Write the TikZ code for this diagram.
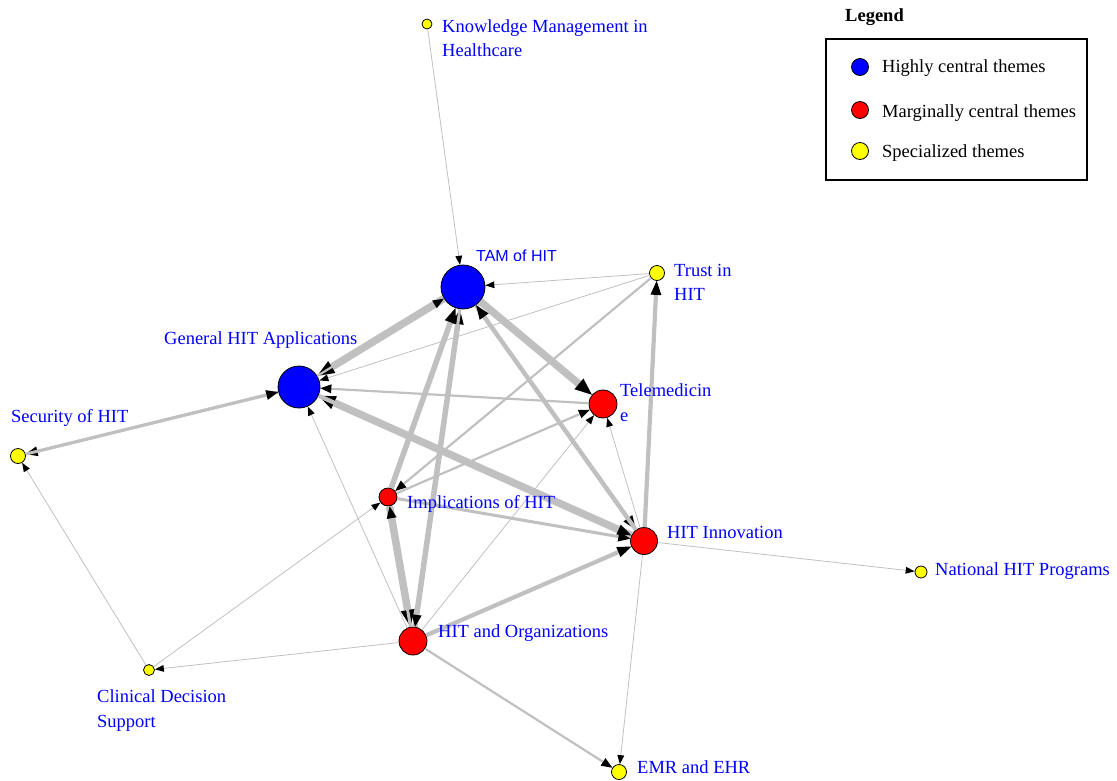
\documentclass[tikz,border=0pt]{standalone}
\usepackage{fontspec}
\setmainfont{Liberation Serif}
\newfontfamily\arialf{Liberation Sans}
\usetikzlibrary{arrows.meta}
\definecolor{edgegray}{RGB}{192,192,192}
\definecolor{lblue}{RGB}{0,0,255}
\definecolor{nblue}{RGB}{0,0,255}
\definecolor{nred}{RGB}{255,0,0}
\definecolor{nyellow}{RGB}{255,255,0}
\begin{document}
\begin{tikzpicture}[x=1pt,y=-1pt,
  vtx/.style={circle,draw=black,line width=0.8pt,inner sep=0pt,minimum size=#1},
  hc/.style={vtx=#1,fill=nblue},
  mc/.style={vtx=#1,fill=nred},
  sp/.style={vtx=#1,fill=nyellow},
  lbl/.style={anchor=base west,text=lblue,inner sep=0pt,font=\fontsize{18.5}{24}\selectfont},
  legtxt/.style={anchor=base west,text=black,inner sep=0pt,font=\fontsize{18.5}{24}\selectfont},
  ew/.style n args={3}{draw=edgegray,line width=#1,-{Triangle[length=#2,width=#3,color=black,line width=0pt]}},
  e1/.style={ew={0.8pt}{9pt}{7pt}},
  e2/.style={ew={2.2pt}{11pt}{9pt}},
  e3/.style={ew={3pt}{12pt}{10pt}},
  e4/.style={ew={4.2pt}{14pt}{11pt}},
  e5/.style={ew={5.5pt}{15pt}{12pt}},
  e7/.style={ew={7.5pt}{17pt}{14pt}},
]
\useasboundingbox (0,0) rectangle (1117,780);

% nodes
\node[hc=44pt] (TAM) at (463,287) {};
\node[hc=42pt] (GEN) at (299,387) {};
\node[mc=28pt] (TEL) at (603,404) {};
\node[mc=18pt] (IMP) at (388,497) {};
\node[mc=27pt] (INN) at (644,541) {};
\node[mc=28pt] (ORG) at (413,641) {};
\node[sp=15pt] (TRU) at (657,273) {};
\node[sp=10pt] (KM) at (427,24) {};
\node[sp=15pt] (SEC) at (18,456) {};
\node[sp=11pt] (CDS) at (149,670) {};
\node[sp=12pt] (NAT) at (921,572) {};
\node[sp=15pt] (EMR) at (619,772) {};

% edges
\draw[e1] (KM) -- (TAM);
\draw[e1] (TRU) -- (TAM);
\draw[e1] (TRU) -- (GEN);
\draw[e2] (TRU) -- (IMP);
\draw[e4] (INN) -- (TRU);
\draw[e7] (TAM) -- (GEN);
\draw[e2] (GEN) -- (TAM);
\draw[e7] (TAM) -- (TEL);
\draw[e4] (TAM) -- (INN);
\draw[e4] (INN) -- (TAM);
\draw[e7] (INN) -- (GEN);
\draw[e4] (GEN) -- (INN);
\draw[e2] (TEL) -- (GEN);
\draw[e5] (IMP) -- (TAM);
\draw[e5] (ORG) -- (TAM);
\draw[e3] (TAM) -- (ORG);
\draw[e7] (IMP) -- (ORG);
\draw[e3] (ORG) -- (IMP);
\draw[e2] (IMP) -- (TEL);
\draw[e1] (ORG) -- (TEL);
\draw[e1] (INN) -- (TEL);
\draw[e3] (IMP) -- (INN);
\draw[e4] (ORG) -- (INN);
\draw[e1] (INN) -- (NAT);
\draw[e1] (INN) -- (EMR);
\draw[e2] (ORG) -- (EMR);
\draw[e1] (ORG) -- (CDS);
\draw[e1] (ORG) -- (GEN);
\draw[e1] (CDS) -- (SEC);
\draw[e3] (GEN) -- (SEC);
\draw[e3] (SEC) -- (GEN);
\draw[e1] (CDS) -- (IMP);

% labels
\node[lbl] (kml1) at (442,32) {Knowledge Management in};
\node[lbl] (kml2) at (442,56) {Healthcare};
\node[lbl,font=\arialf\fontsize{16}{20}\selectfont] (taml) at (476,261) {TAM of HIT};
\node[lbl] (trul1) at (674,276) {Trust in};
\node[lbl] (trul2) at (674,300) {HIT};
\node[lbl] (genl) at (164,344) {General HIT Applications};
\node[lbl] (tell1) at (620,396) {Telemedicin};
\node[lbl] (tell2) at (620,421) {e};
\node[lbl] (secl) at (11,422) {Security of HIT};
\node[lbl] (impl) at (407,508) {Implications of HIT};
\node[lbl] (innl) at (667,538) {HIT Innovation};
\node[lbl] (natl) at (935,575) {National HIT Programs};
\node[lbl] (orgl) at (438,637) {HIT and Organizations};
\node[lbl] (cdsl1) at (97,702) {Clinical Decision};
\node[lbl] (cdsl2) at (97,727) {Support};
\node[lbl] (emrl) at (637,773) {EMR and EHR};

% legend
\node[legtxt,font=\bfseries\fontsize{18.5}{24}\selectfont] (legt) at (845,21) {Legend};
\node[draw=black,line width=2pt,anchor=north west,minimum width=261pt,minimum height=141pt,inner sep=0pt] (legbox) at (825,38) {};
\node[hc=17pt] (lc1) at (860,67) {};
\node[mc=17pt] (lc2) at (860,110) {};
\node[sp=17pt] (lc3) at (860,151) {};
\node[legtxt] (lt1) at (882,72) {Highly central themes};
\node[legtxt] (lt2) at (882,117) {Marginally central themes};
\node[legtxt] (lt3) at (882,157) {Specialized themes};
\end{tikzpicture}
\end{document}
